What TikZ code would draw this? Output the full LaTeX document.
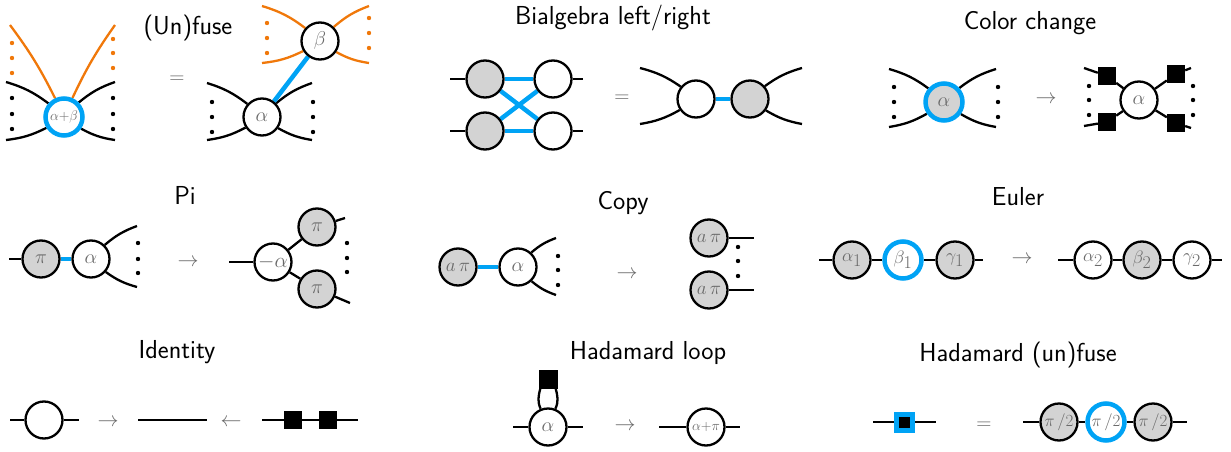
\RequirePackage{fix-cm}
\documentclass[tikz,border=0pt]{standalone}
\definecolor{zxblue}{RGB}{0,163,245}
\definecolor{zxorange}{RGB}{240,120,10}
\definecolor{zxgray}{RGB}{211,211,211}
\definecolor{txtgray}{RGB}{105,105,105}
\pgfdeclarelayer{bg}
\pgfsetlayers{bg,main}
\begin{document}
\begin{tikzpicture}[x=1pt,y=1pt,
  wire/.style={line width=2.3pt, draw=black},
  bwire/.style={line width=4.5pt, draw=zxblue},
  owire/.style={line width=2.3pt, draw=zxorange},
  zw/.style={circle, draw=black, line width=2.3pt, fill=white, minimum size=37pt, inner sep=0pt, text=txtgray, font=\fontsize{20}{20}\selectfont},
  zg/.style={zw, fill=zxgray},
  ring/.style={draw=zxblue, line width=4.5pt},
  hbox/.style={rectangle, fill=black, minimum size=18pt, inner sep=0pt},
  hblue/.style={rectangle, fill=black, draw=zxblue, line width=5pt, minimum size=16pt, inner sep=0pt},
  ttl/.style={font=\sffamily\fontsize{26}{30}\selectfont, inner sep=0pt},
  op/.style={text=txtgray, font=\fontsize{21}{21}\selectfont, inner sep=0pt},
  sm/.style={font=\fontsize{14}{14}\selectfont},
  md/.style={font=\fontsize{18}{18}\selectfont},
]
\path[use as bounding box] (0,0) rectangle (1231,-452);

% ---------- Panel 1: (Un)fuse ----------
\node[ttl] (t1) at (188,-28) {(Un)fuse};
\node[op] (e1) at (177,-80) {$=$};
\node[zw, ring, sm] (f) at (64,-117) {$\alpha{+}\beta$};
\coordinate (f1) at (6,-82); \coordinate (f2) at (6,-140);
\coordinate (f3) at (115,-82); \coordinate (f4) at (115,-140);
\coordinate (f5) at (10,-25); \coordinate (f6) at (115,-25);
\node[zw] (a1) at (262,-117) {$\alpha$};
\node[zw] (b1) at (320,-41) {$\beta$};
\coordinate (a1l) at (207,-83); \coordinate (a1m) at (207,-140);
\coordinate (a1r) at (312,-83); \coordinate (a1s) at (312,-140);
\coordinate (b1l) at (262,-6); \coordinate (b1m) at (262,-63);
\coordinate (b1r) at (369,-6); \coordinate (b1s) at (369,-63);
\begin{pgfonlayer}{bg}
\draw[wire] (f) to[bend right=10] (f1);
\draw[wire] (f) to[bend left=10] (f2);
\draw[wire] (f) to[bend left=10] (f3);
\draw[wire] (f) to[bend right=10] (f4);
\draw[owire] (f) to[bend right=5] (f5);
\draw[owire] (f) to[bend left=5] (f6);
\draw[wire] (a1) to[bend right=10] (a1l);
\draw[wire] (a1) to[bend left=10] (a1m);
\draw[wire] (a1) to[bend left=10] (a1r);
\draw[wire] (a1) to[bend right=10] (a1s);
\draw[owire] (b1) to[bend right=10] (b1l);
\draw[owire] (b1) to[bend left=10] (b1m);
\draw[owire] (b1) to[bend left=10] (b1r);
\draw[owire] (b1) to[bend right=10] (b1s);
\draw[bwire] (a1) -- (b1);
\end{pgfonlayer}
\foreach \y in {98,114,129} {\fill (12,-\y) circle[radius=2.2]; \fill (113,-\y) circle[radius=2.2];}
\foreach \y in {43,58,73} {\fill[zxorange] (12,-\y) circle[radius=2.2];}
\foreach \y in {39,53,68} {\fill[zxorange] (113,-\y) circle[radius=2.2];}
\foreach \y in {102,117,132} {\fill (212,-\y) circle[radius=2.2]; \fill (313,-\y) circle[radius=2.2];}
\foreach \y in {23,38,53} {\fill[zxorange] (267,-\y) circle[radius=2.2];}
\foreach \y in {18,33,48} {\fill[zxorange] (369,-\y) circle[radius=2.2];}

% ---------- Panel 2: Bialgebra ----------
\node[ttl] (t2) at (613,-18) {Bialgebra left/right};
\node[zg] (g1) at (485,-79) {};
\node[zg] (g2) at (485,-131) {};
\node[zw] (w1) at (553,-79) {};
\node[zw] (w2) at (553,-131) {};
\coordinate (g1l) at (450,-79); \coordinate (g2l) at (450,-131);
\coordinate (w1r) at (583,-79); \coordinate (w2r) at (583,-131);
\node[op] (e2) at (622,-99) {$=$};
\node[zw] (w3) at (696,-99) {};
\node[zg] (g3) at (750,-99) {};
\coordinate (w3l) at (640,-68); \coordinate (w3m) at (640,-124);
\coordinate (g3r) at (802,-68); \coordinate (g3s) at (802,-124);
\begin{pgfonlayer}{bg}
\draw[wire] (g1l) -- (g1); \draw[wire] (g2l) -- (g2);
\draw[wire] (w1) -- (w1r); \draw[wire] (w2) -- (w2r);
\draw[bwire] (g1) -- (w1); \draw[bwire] (g2) -- (w2);
\draw[bwire] (g1) -- (w2); \draw[bwire] (g2) -- (w1);
\draw[wire] (w3) to[bend right=10] (w3l);
\draw[wire] (w3) to[bend left=10] (w3m);
\draw[wire] (g3) to[bend left=10] (g3r);
\draw[wire] (g3) to[bend right=10] (g3s);
\draw[bwire] (w3) -- (g3);
\end{pgfonlayer}

% ---------- Panel 3: Color change ----------
\node[ttl] (t3) at (1030,-23) {Color change};
\node[zg, ring] (c1) at (944,-102) {$\alpha$};
\coordinate (c1l) at (889,-69); \coordinate (c1m) at (889,-127);
\coordinate (c1r) at (996,-69); \coordinate (c1s) at (996,-127);
\node[op] (a3) at (1046,-100) {$\rightarrow$};
\node[zw] (c2) at (1139,-100) {$\alpha$};
\node[hbox] (h1) at (1107,-76) {};
\node[hbox] (h2) at (1107,-122) {};
\node[hbox] (h3) at (1176,-74) {};
\node[hbox] (h4) at (1176,-123) {};
\coordinate (h1o) at (1084,-68); \coordinate (h2o) at (1084,-126);
\coordinate (h3o) at (1191,-68); \coordinate (h4o) at (1191,-128);
\begin{pgfonlayer}{bg}
\draw[wire] (c1) to[bend right=10] (c1l);
\draw[wire] (c1) to[bend left=10] (c1m);
\draw[wire] (c1) to[bend left=10] (c1r);
\draw[wire] (c1) to[bend right=10] (c1s);
\draw[wire] (c2) -- (h1); \draw[wire] (c2) -- (h2);
\draw[wire] (c2) -- (h3); \draw[wire] (c2) -- (h4);
\draw[wire] (h1) -- (h1o); \draw[wire] (h2) -- (h2o);
\draw[wire] (h3) -- (h3o); \draw[wire] (h4) -- (h4o);
\end{pgfonlayer}
\foreach \y in {87,102,117} {\fill (894,-\y) circle[radius=2.2]; \fill (998,-\y) circle[radius=2.2];}
\foreach \y in {86,100,115} {\fill (1089,-\y) circle[radius=2.2]; \fill (1193,-\y) circle[radius=2.2];}

% ---------- Panel 4: Pi ----------
\node[ttl] (t4) at (185,-195) {Pi};
\node[zg] (p1) at (41,-259) {$\pi$};
\node[zw] (p2) at (91,-259) {$\alpha$};
\coordinate (p1l) at (9,-259);
\coordinate (p2r) at (137,-226); \coordinate (p2s) at (137,-287);
\node[op] (a4) at (188,-263) {$\rightarrow$};
\node[zw, font=\fontsize{21}{21}\selectfont] (p3) at (273,-262) {$-\alpha$};
\node[zg] (p4) at (317,-227) {$\pi$};
\node[zg] (p5) at (317,-289) {$\pi$};
\coordinate (p3l) at (229,-262);
\coordinate (p4r) at (345,-218); \coordinate (p5r) at (350,-303);
\begin{pgfonlayer}{bg}
\draw[wire] (p1l) -- (p1);
\draw[bwire] (p1) -- (p2);
\draw[wire] (p2) to[bend left=10] (p2r);
\draw[wire] (p2) to[bend right=10] (p2s);
\draw[wire] (p3l) -- (p3);
\draw[wire] (p3) -- (p4); \draw[wire] (p3) -- (p5);
\draw[wire] (p4) -- (p4r); \draw[wire] (p5) -- (p5r);
\end{pgfonlayer}
\foreach \y in {243,259,273} {\fill (138,-\y) circle[radius=2.2];}
\foreach \y in {243,258,272} {\fill (347,-\y) circle[radius=2.2];}

% ---------- Panel 5: Copy ----------
\node[ttl] (t5) at (623,-203) {Copy};
\node[zg, font=\fontsize{19}{19}\selectfont] (k1) at (458,-267) {$a\,\pi$};
\node[zw] (k2) at (518,-267) {$\alpha$};
\coordinate (k2r) at (556,-238); \coordinate (k2s) at (556,-295);
\node[op] (a5) at (627,-275) {$\rightarrow$};
\node[zg, font=\fontsize{19}{19}\selectfont] (k3) at (709,-238) {$a\,\pi$};
\node[zg, font=\fontsize{19}{19}\selectfont] (k4) at (709,-290) {$a\,\pi$};
\coordinate (k3r) at (754,-238); \coordinate (k4r) at (754,-290);
\begin{pgfonlayer}{bg}
\draw[bwire] (k1) -- (k2);
\draw[wire] (k2) to[bend left=10] (k2r);
\draw[wire] (k2) to[bend right=10] (k2s);
\draw[wire] (k3) -- (k3r); \draw[wire] (k4) -- (k4r);
\end{pgfonlayer}
\foreach \y in {256,270,285} {\fill (558,-\y) circle[radius=2.2];}
\foreach \y in {247,261,276} {\fill (738,-\y) circle[radius=2.2];}

% ---------- Panel 6: Euler ----------
\node[ttl] (t6) at (1018,-197) {Euler};
\node[zg, md] (u1) at (852,-260) {$\alpha_{\textstyle 1}$};
\node[zw, ring, md] (u2) at (903,-260) {$\beta_{\textstyle 1}$};
\node[zg, md] (u3) at (955,-260) {$\gamma_{\textstyle 1}$};
\coordinate (u1l) at (819,-260); \coordinate (u3r) at (983,-260);
\node[op] (a6) at (1022,-260) {$\rightarrow$};
\node[zw, md] (v1) at (1093,-260) {$\alpha_{\textstyle 2}$};
\node[zg, md] (v2) at (1142,-260) {$\beta_{\textstyle 2}$};
\node[zw, md] (v3) at (1192,-260) {$\gamma_{\textstyle 2}$};
\coordinate (v1l) at (1058,-260); \coordinate (v3r) at (1222,-260);
\begin{pgfonlayer}{bg}
\draw[wire] (u1l) -- (u1) -- (u2) -- (u3) -- (u3r);
\draw[wire] (v1l) -- (v1) -- (v2) -- (v3) -- (v3r);
\end{pgfonlayer}

% ---------- Panel 7: Identity ----------
\node[ttl] (t7) at (177,-352) {Identity};
\node[zw] (i1) at (44,-420) {};
\coordinate (i1l) at (10,-420); \coordinate (i1r) at (79,-420);
\node[op] (a7) at (108,-423) {$\rightarrow$};
\coordinate (i2l) at (138,-420); \coordinate (i2r) at (207,-420);
\node[op] (a8) at (231,-423) {$\leftarrow$};
\node[hbox] (i3) at (293,-420) {};
\node[hbox] (i4) at (328,-420) {};
\coordinate (i3l) at (262,-420); \coordinate (i4r) at (358,-420);
\begin{pgfonlayer}{bg}
\draw[wire] (i1l) -- (i1) -- (i1r);
\draw[wire] (i2l) -- (i2r);
\draw[wire] (i3l) -- (i3) -- (i4) -- (i4r);
\end{pgfonlayer}

% ---------- Panel 8: Hadamard loop ----------
\node[ttl] (t8) at (648,-353) {Hadamard loop};
\node[zw] (l1) at (548,-427) {$\alpha$};
\node[hbox, minimum size=19pt] (l2) at (548,-379) {};
\coordinate (l1l) at (513,-427); \coordinate (l1r) at (583,-427);
\node[op] (a9) at (625,-427) {$\rightarrow$};
\node[zw, sm] (l3) at (706,-427) {$\alpha{+}\pi$};
\coordinate (l3l) at (659,-427); \coordinate (l3r) at (740,-427);
\begin{pgfonlayer}{bg}
\draw[wire] (l1l) -- (l1) -- (l1r);
\draw[wire] ([xshift=2pt]l2.south west) to[out=-105,in=115] (l1.112);
\draw[wire] ([xshift=-2pt]l2.south east) to[out=-75,in=65] (l1.68);
\draw[wire] (l3l) -- (l3) -- (l3r);
\end{pgfonlayer}

% ---------- Panel 9: Hadamard (un)fuse ----------
\node[ttl] (t9) at (1018,-355) {Hadamard (un)fuse};
\node[hblue] (q1) at (904,-422) {};
\coordinate (q1l) at (873,-422); \coordinate (q1r) at (936,-422);
\node[op] (e9) at (984,-426) {$=$};
\node[zg, font=\fontsize{17}{17}\selectfont] (r1) at (1059,-422) {$\pi\,/2$};
\node[zw, ring, font=\fontsize{17}{17}\selectfont] (r2) at (1106,-422) {$\pi\,/2$};
\node[zg, font=\fontsize{17}{17}\selectfont] (r3) at (1153,-422) {$\pi\,/2$};
\coordinate (r1l) at (1023,-422); \coordinate (r3r) at (1187,-422);
\begin{pgfonlayer}{bg}
\draw[wire] (q1l) -- (q1) -- (q1r);
\draw[wire] (r1l) -- (r1) -- (r2) -- (r3) -- (r3r);
\end{pgfonlayer}
\end{tikzpicture}
\end{document}
